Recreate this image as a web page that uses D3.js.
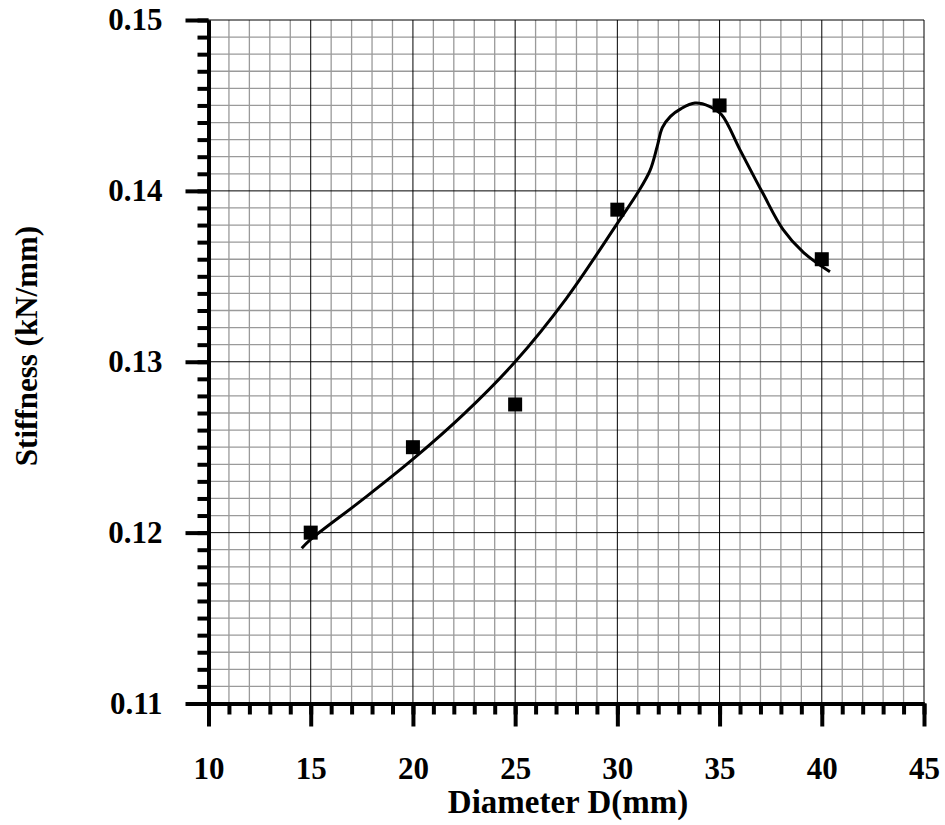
<!DOCTYPE html>
<html>
<head>
<meta charset="utf-8">
<script src="https://cdn.jsdelivr.net/npm/d3@7"></script>
<style>
  html, body { margin: 0; padding: 0; background: #fff; }
  svg text { font-family: "Times New Roman", "Liberation Serif", serif; font-weight: bold; fill: #000; }
</style>
</head>
<body>
<svg id="chart" width="945" height="825"></svg>
<script>
// Measured stiffness for each diameter
const diameters = [15, 20, 25, 30, 35, 40];
const stiffness = [0.1200, 0.1250, 0.1275, 0.1389, 0.1450, 0.1360];

// Smoothed trend curve through the measurements
const trendX = [14.56, 15, 17.5, 20, 22.5, 25, 27.5, 30, 31, 31.6, 31.95, 32.2, 32.6, 33.1, 33.8, 34.5, 35.1, 36, 37.1, 38.1, 39.1, 40.4];
const trendY = [0.11908, 0.1196, 0.1219, 0.1243, 0.12695, 0.1300, 0.1337, 0.1381, 0.1399, 0.1412, 0.1426, 0.1437, 0.14436, 0.1448, 0.14514, 0.14495, 0.14445, 0.1424, 0.1399, 0.13775, 0.1364, 0.13526];

// Axis ticks
const xMajorTicks = [10, 15, 20, 25, 30, 35, 40, 45];
const yMajorTicks = [0.11, 0.12, 0.13, 0.14, 0.15];
const xMinorTicks = d3.range(10, 46, 1);
const yMinorTicks = d3.range(110, 151, 1).map(v => v / 1000);

const svg = d3.select("#chart");
const x = d3.scaleLinear().domain([10, 45]).range([208.5, 924]);
const y = d3.scaleLinear().domain([0.11, 0.15]).range([703.5, 20]);

// Grid: minor lines in gray, major lines in black
const grid = svg.append("g");
grid.selectAll("line.vmin").data(xMinorTicks.filter(v => v % 5 !== 0)).enter().append("line")
  .attr("x1", d => x(d)).attr("x2", d => x(d)).attr("y1", y(0.15)).attr("y2", y(0.11))
  .attr("stroke", "#9a9a9a").attr("stroke-width", 1.3);
grid.selectAll("line.hmin").data(yMinorTicks.filter((v, i) => i % 10 !== 0)).enter().append("line")
  .attr("x1", x(10)).attr("x2", x(45)).attr("y1", d => y(d)).attr("y2", d => y(d))
  .attr("stroke", "#9a9a9a").attr("stroke-width", 1.3);
grid.selectAll("line.vmaj").data(xMajorTicks).enter().append("line")
  .attr("x1", d => x(d)).attr("x2", d => x(d)).attr("y1", y(0.15)).attr("y2", y(0.11))
  .attr("stroke", "#000").attr("stroke-width", 1);
grid.selectAll("line.hmaj").data(yMajorTicks).enter().append("line")
  .attr("x1", x(10)).attr("x2", x(45)).attr("y1", d => y(d)).attr("y2", d => y(d))
  .attr("stroke", "#000").attr("stroke-width", 1);

// Minor tick marks
const xMinorAxis = d3.axisBottom(x).tickValues(xMinorTicks).tickSize(11).tickSizeOuter(0).tickFormat("");
const yMinorAxis = d3.axisLeft(y).tickValues(yMinorTicks).tickSize(11).tickSizeOuter(0).tickFormat("");
svg.append("g").attr("transform", `translate(0,${y(0.11)})`).call(xMinorAxis);
svg.append("g").attr("transform", `translate(${x(10)},0)`).call(yMinorAxis);

// Major axes with labels
const xAxis = d3.axisBottom(x).tickValues(xMajorTicks).tickSize(23).tickSizeOuter(0).tickPadding(30).tickFormat(d3.format("d"));
const yAxis = d3.axisLeft(y).tickValues(yMajorTicks).tickSize(23).tickSizeOuter(0).tickPadding(23).tickFormat(d3.format(".2f"));
const gx = svg.append("g").attr("transform", `translate(0,${y(0.11)})`).call(xAxis);
const gy = svg.append("g").attr("transform", `translate(${x(10)},0)`).call(yAxis);

svg.selectAll(".domain").attr("stroke", "#000").attr("stroke-width", 4);
svg.selectAll(".tick line").attr("stroke", "#000").attr("stroke-width", 4);
gx.selectAll("text").style("font-size", "31px").attr("dy", "0.71em");
gy.selectAll("text").style("font-size", "31px").attr("dy", "0.32em");

// Trend curve
const line = d3.line()
  .x((d, i) => x(trendX[i]))
  .y((d, i) => y(trendY[i]))
  .curve(d3.curveCatmullRom.alpha(0.5));
svg.append("path").datum(trendX).attr("d", line)
  .attr("fill", "none").attr("stroke", "#000").attr("stroke-width", 3);

// Measurement markers
const ms = 14;
svg.selectAll("rect.pt").data(diameters).enter().append("rect")
  .attr("x", d => x(d) - ms / 2)
  .attr("y", (d, i) => y(stiffness[i]) - ms / 2)
  .attr("width", ms).attr("height", ms).attr("fill", "#000");

// Axis titles
svg.append("text").attr("x", 568).attr("y", 813).attr("text-anchor", "middle")
  .style("font-size", "33px").text("Diameter D(mm)");
svg.append("text").attr("transform", "translate(37,346) rotate(-90)").attr("text-anchor", "middle")
  .style("font-size", "31px").text("Stiffness (kN/mm)");
</script>
</body>
</html>
